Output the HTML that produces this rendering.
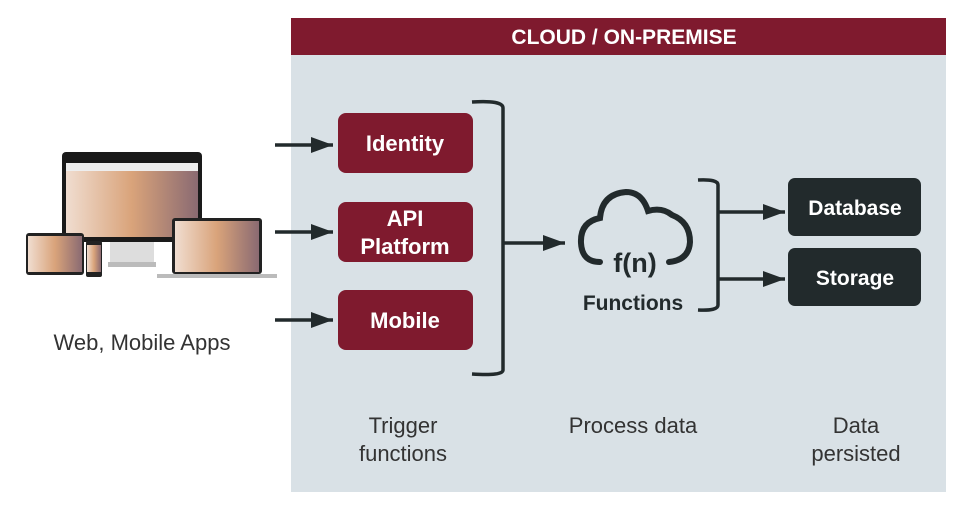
<!DOCTYPE html>
<html><head><meta charset="utf-8"><style>
html,body{margin:0;padding:0;background:#fff;}
svg{display:block;font-family:"Liberation Sans",sans-serif;}
</style></head><body>
<svg width="970" height="506" viewBox="0 0 970 506" xmlns="http://www.w3.org/2000/svg">
<defs>
<marker id="a2" markerWidth="22" markerHeight="16" refX="22" refY="8" orient="auto" markerUnits="userSpaceOnUse">
<path d="M0,0 L22,8 L0,16 z" fill="#222a2c"/></marker>
<linearGradient id="scr" x1="0" y1="0" x2="1" y2="0">
<stop offset="0" stop-color="#f0ddd0"/><stop offset="0.5" stop-color="#d9a37a"/><stop offset="1" stop-color="#8a6a72"/></linearGradient>
</defs>
<rect x="291" y="18" width="655" height="474" fill="#d9e1e6"/>
<rect x="291" y="18" width="655" height="37" fill="#7f1a2e"/>
<text x="624" y="44" text-anchor="middle" fill="#fff" font-size="21" font-weight="bold">CLOUD / ON-PREMISE</text>

<!-- devices -->
<rect x="62" y="152" width="140" height="90" rx="4" fill="#1a1a1a"/>
<rect x="66" y="163" width="132" height="74" fill="url(#scr)"/>
<rect x="66" y="163" width="132" height="8" fill="#eee"/>
<rect x="110" y="242" width="44" height="20" fill="#ddd"/>
<rect x="108" y="262" width="48" height="5" fill="#bbb"/>
<rect x="26" y="233" width="58" height="42" rx="3" fill="#222"/>
<rect x="28" y="236" width="54" height="36" fill="url(#scr)"/>
<rect x="86" y="241" width="16" height="36" rx="2" fill="#222"/>
<rect x="87" y="245" width="14" height="27" fill="url(#scr)"/>
<rect x="172" y="218" width="90" height="56" rx="3" fill="#222"/>
<rect x="175" y="221" width="84" height="51" fill="url(#scr)"/>
<rect x="157" y="274" width="120" height="4" fill="#bbb"/>
<text x="142" y="350" text-anchor="middle" fill="#333" font-size="22">Web, Mobile Apps</text>

<g stroke="#222a2c" stroke-width="3.5" fill="none">
<line x1="275" y1="145" x2="333" y2="145" marker-end="url(#a2)"/>
<line x1="275" y1="232" x2="333" y2="232" marker-end="url(#a2)"/>
<line x1="275" y1="320" x2="333" y2="320" marker-end="url(#a2)"/>
<path d="M472,102 Q503,100 503,108 L503,370 Q503,376 472,374"/>
<line x1="503" y1="243" x2="565" y2="243" marker-end="url(#a2)"/>
<path d="M698,180 Q718,179 718,185 L718,305 Q718,311 698,310"/>
<line x1="718" y1="212" x2="785" y2="212" marker-end="url(#a2)"/>
<line x1="718" y1="279" x2="785" y2="279" marker-end="url(#a2)"/>
</g>

<g fill="#7f1a2e">
<rect x="338" y="113" width="135" height="60" rx="8"/>
<rect x="338" y="202" width="135" height="60" rx="8"/>
<rect x="338" y="290" width="135" height="60" rx="8"/>
</g>
<g fill="#fff" font-size="22" font-weight="bold" text-anchor="middle">
<text x="405" y="151">Identity</text>
<text x="405" y="226">API</text>
<text x="405" y="254">Platform</text>
<text x="405" y="328">Mobile</text>
</g>

<!-- cloud -->
<path d="M600,262 Q582,262 581,243 Q580,222 600,218 Q602,194 626,192 Q642,192 648,211 Q662,207 672,215 Q690,222 690,242 Q689,260 669,262" fill="none" stroke="#222a2c" stroke-width="6" stroke-linecap="round"/>
<text x="635" y="272" text-anchor="middle" fill="#222a2c" font-size="27" font-weight="bold">f(n)</text>
<text x="633" y="310" text-anchor="middle" fill="#222a2c" font-size="21" font-weight="bold">Functions</text>

<g fill="#222a2c">
<rect x="788" y="178" width="133" height="58" rx="7"/>
<rect x="788" y="248" width="133" height="58" rx="7"/>
</g>
<g fill="#fff" font-size="21" font-weight="bold" text-anchor="middle">
<text x="855" y="215">Database</text>
<text x="855" y="285">Storage</text>
</g>

<g fill="#333" font-size="22" text-anchor="middle">
<text x="403" y="433">Trigger</text>
<text x="403" y="461">functions</text>
<text x="633" y="433">Process data</text>
<text x="856" y="433">Data</text>
<text x="856" y="461">persisted</text>
</g>
</svg>
</body></html>
